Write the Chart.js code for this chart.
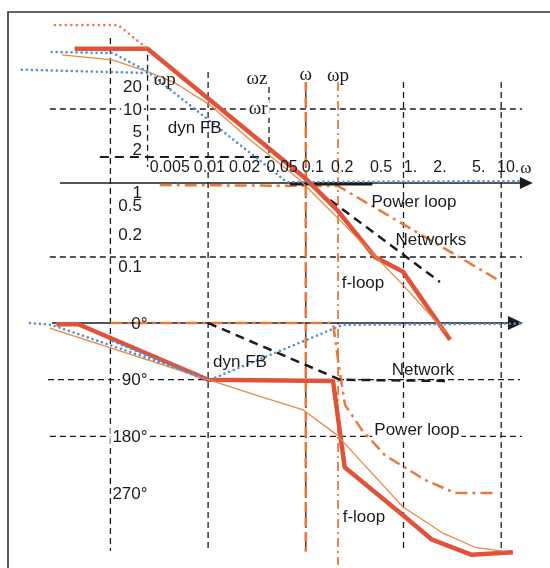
<!DOCTYPE html>
<html>
<head>
<meta charset="utf-8">
<script src="https://cdn.jsdelivr.net/npm/chart.js@4.4.1/dist/chart.umd.min.js"></script>
<style>
  html, body { margin: 0; padding: 0; background: #fff; }
  #wrap { width: 550px; height: 568px; position: relative; }
</style>
</head>
<body>
<div id="wrap"><canvas id="bode"></canvas></div>
<script>
// ---- Magnitude (|G|, log) against frequency ω ----
// f-loop, asymptotic
const floopMagW  = [0.00043, 0.0024, 0.098, 0.21, 0.51, 0.99, 3.0];
const floopMag   = [65, 65, 1.17, 0.43, 0.10, 0.063, 0.0076];
// f-loop, actual response
const floopFitMagW = [0.00032, 0.00104, 0.0024, 0.0046, 0.0105, 0.027, 0.087, 0.22, 0.51, 0.97, 2.7];
const floopFitMag  = [54, 46, 32, 22.5, 11.3, 3.8, 1.10, 0.32, 0.103, 0.043, 0.0097];
// open loop (dotted)
const openMagW = [0.00027, 0.0012, 0.0024];
const openMag  = [136, 136, 65];
// dynamic feedback (dotted)
const dynFbMagW = [0.00025, 0.00106, 0.0024, 0.064, 15.6];
const dynFbMag  = [59, 57, 32, 1.03, 1.06];
const dynFb2MagW = [0.000124, 0.0024];
const dynFb2Mag  = [34, 30.6];
// dynamic feedback asymptote
const dynFbAsymW = [0.00078, 0.043];
const dynFbAsym  = [2.25, 2.25];
// networks
const netFlatW = [0.069, 0.48];
const netFlat  = [0.97, 0.97];
const netMagW = [0.177, 2.36];
const netMag  = [0.59, 0.046];
// power loop
const powerMagW = [0.0032, 0.214, 9.3];
const powerMag  = [0.94, 0.91, 0.049];

// ---- Phase (degrees) against frequency ω ----
const floopPhW = [0.00028, 0.00047, 0.01, 0.19, 0.25, 0.99, 1.96, 5.0, 13.2];
const floopPh  = [-2, -2, -90, -92, -229, -305, -344, -368, -364];
const floopFitPhW = [0.00024, 0.01, 0.0365, 0.094, 0.21, 0.38, 0.99, 2.5, 5.4, 10.4];
const floopFitPh  = [-8, -90, -118, -138, -178, -222, -292, -333, -356, -362];
const dynFbPhW = [0.00015, 0.00025, 0.0105, 0.24, 15.6];
const dynFbPh  = [0, -3, -90, -3, -1];
const dynFb2PhW = [0.00106, 0.0083];
const dynFb2Ph  = [-29, -87];
const netPhW = [0.01, 0.224, 2.66];
const netPh  = [0, -90, -92];
const powerPhW = [0.001, 0.19, 0.214, 0.252, 0.376, 0.647, 1.66, 3.37, 9.1];
const powerPh  = [0, 0, -59, -130, -170, -210, -249, -270, -270];

// characteristic frequencies
const omegaC = 0.1;
const omegaP = 0.214;

// ---- tick labels ----
const freqTicks = [0.005, 0.01, 0.02, 0.05, 0.1, 0.2, 0.5, 1, 2, 5, 10];
const freqTickLabels = ['0.005', '0.01', '0.02', '0.05', '0.1', '0.2', '0.5', '1.', '2.', '5.', '10.'];
const magTicks = [20, 10, 5, 2, 1, 0.5, 0.2, 0.1];
const magTickLabels = ['20', '10', '5', '2', '1', '0.5', '0.2', '0.1'];
const phaseTicks = [0, -90, -180, -270];
const phaseTickLabels = ['0°', '90°', '180°', '270°'];

// ---- curve names and frequency markers ----
const notes = [
  { text: 'ωp', w: 0.0036, v: 24.7, axis: 'mag' },
  { text: 'ωz', w: 0.0317, v: 25.4, axis: 'mag' },
  { text: 'ωr', w: 0.0325, v: 10, axis: 'mag' },
  { text: 'ω', w: 0.1, v: 28.8, axis: 'mag' },
  { text: 'ωp', w: 0.214, v: 27.9, axis: 'mag' },
  { text: 'dyn FB', w: 0.0073, v: 5.5, axis: 'mag' },
  { text: 'Power loop', w: 1.28, v: 0.55, axis: 'mag' },
  { text: 'Networks', w: 1.91, v: 0.17, axis: 'mag' },
  { text: 'f-loop', w: 0.385, v: 0.0445, axis: 'mag' },
  { text: 'dyn FB', w: 0.0212, v: -62, axis: 'ph' },
  { text: 'Network', w: 1.58, v: -75, axis: 'ph' },
  { text: 'Power loop', w: 1.37, v: -170, axis: 'ph' },
  { text: 'f-loop', w: 0.394, v: -308, axis: 'ph' }
];

const RED = '#e0533a';
const ORANGE = '#e97a3c';
const THIN = '#e68a48';
const BLUE = '#4d8fd1';
const INK = '#1b1b1b';
const SANS = '"Liberation Sans", Arial, sans-serif';
const SERIF = '"Liberation Serif", "Times New Roman", serif';

function series(ws, vs, axis, style) {
  return Object.assign({
    data: ws.map((w, i) => ({ x: w, y: vs[i] })),
    yAxisID: axis,
    pointRadius: 0,
    pointHoverRadius: 0,
    tension: 0,
    fill: false,
    borderJoinStyle: 'round'
  }, style);
}

const redStyle   = { borderColor: RED, borderWidth: 4.5, order: 3 };
const thinStyle  = { borderColor: THIN, borderWidth: 1.3, order: 2 };
const blueStyle  = { borderColor: BLUE, borderWidth: 2.6, borderDash: [0, 5], borderCapStyle: 'round', order: 1 };
const dotStyle   = { borderColor: ORANGE, borderWidth: 2.6, borderDash: [0, 5.5], borderCapStyle: 'round', order: 1 };
const netStyle   = { borderColor: INK, borderWidth: 2.5, borderDash: [9, 6], order: 4 };
const powerStyle = { borderColor: ORANGE, borderWidth: 2.5, borderDash: [12, 5, 3, 5], order: 5 };

const datasets = [
  series(floopMagW, floopMag, 'mag', redStyle),
  series(floopFitMagW, floopFitMag, 'mag', thinStyle),
  series(openMagW, openMag, 'mag', dotStyle),
  series(dynFbMagW, dynFbMag, 'mag', blueStyle),
  series(dynFb2MagW, dynFb2Mag, 'mag', blueStyle),
  series(dynFbAsymW, dynFbAsym, 'mag', { borderColor: INK, borderWidth: 2, borderDash: [9, 6], order: 4 }),
  series(netFlatW, netFlat, 'mag', { borderColor: INK, borderWidth: 3, order: 4 }),
  series(netMagW, netMag, 'mag', netStyle),
  series(powerMagW, powerMag, 'mag', powerStyle),
  series(floopPhW, floopPh, 'ph', redStyle),
  series(floopFitPhW, floopFitPh, 'ph', thinStyle),
  series(dynFbPhW, dynFbPh, 'ph', blueStyle),
  series(dynFb2PhW, dynFb2Ph, 'ph', blueStyle),
  series(netPhW, netPh, 'ph', netStyle),
  series(powerPhW, powerPh, 'ph', powerStyle)
];

function seg(ctx, x1, y1, x2, y2, color, width, dash) {
  ctx.save();
  ctx.strokeStyle = color;
  ctx.lineWidth = width;
  ctx.setLineDash(dash || []);
  ctx.beginPath();
  ctx.moveTo(x1, y1);
  ctx.lineTo(x2, y2);
  ctx.stroke();
  ctx.restore();
}

function arrow(ctx, xTip, y, len, half) {
  ctx.save();
  ctx.fillStyle = INK;
  ctx.beginPath();
  ctx.moveTo(xTip, y);
  ctx.lineTo(xTip - len, y - half);
  ctx.lineTo(xTip - len, y + half);
  ctx.closePath();
  ctx.fill();
  ctx.restore();
}

function text(ctx, s, x, y, font, align, baseline, knockout) {
  ctx.save();
  ctx.font = font;
  ctx.textAlign = align || 'center';
  ctx.textBaseline = baseline || 'middle';
  if (knockout) {
    const m = ctx.measureText(s);
    let left = x;
    if (ctx.textAlign === 'center') left = x - m.width / 2;
    else if (ctx.textAlign === 'right') left = x - m.width;
    ctx.fillStyle = '#fff';
    ctx.fillRect(left - 2, y - 9, m.width + 4, 18);
  }
  ctx.fillStyle = INK;
  ctx.fillText(s, x, y);
  ctx.restore();
}

const sketch = {
  id: 'sketch',
  beforeDatasetsDraw(chart) {
    const { ctx, scales } = chart;
    const X = w => scales.x.getPixelForValue(w);
    const M = v => scales.mag.getPixelForValue(v);
    const P = v => scales.ph.getPixelForValue(v);

    // frame
    ctx.save();
    ctx.strokeStyle = '#333';
    ctx.lineWidth = 1.6;
    ctx.beginPath();
    ctx.moveTo(8, chart.height);
    ctx.lineTo(8, 12);
    ctx.lineTo(chart.width, 12);
    ctx.stroke();
    ctx.restore();

    const gridDash = [6, 4];
    // vertical grid lines
    const vgrid = [
      [0.001, M(91), P(-362)],
      [0.0024, M(54), M(1.65)],
      [0.01, M(31.6), P(-363)],
      [0.042, M(19.8), M(2.25)],
      [0.1, M(23.2), P(-363)],
      [1, M(23.2), P(-363)],
      [10, M(23.2), P(-363)]
    ];
    vgrid.forEach(([w, y1, y2]) => seg(ctx, X(w), y1, X(w), y2, INK, 1.3, gridDash));
    // horizontal grid lines
    seg(ctx, X(0.00024), M(10), X(16.3), M(10), INK, 1.3, gridDash);
    seg(ctx, X(0.00024), M(0.1), X(16.3), M(0.1), INK, 1.3, gridDash);
    seg(ctx, X(0.00023), P(-90), X(15.6), P(-90), INK, 1.3, gridDash);
    seg(ctx, X(0.00024), P(-180), X(16.3), P(-180), INK, 1.3, gridDash);

    // frequency markers ω and ωp
    seg(ctx, X(omegaC), M(23.2), X(omegaC), P(-363), ORANGE, 2.6, [10, 5]);
    seg(ctx, X(omegaP), M(23.2), X(omegaP), P(-384), ORANGE, 1.8, [9, 4, 2, 4]);

    // axes with arrow heads
    const magTip = X(21.1), phTip = X(16.7);
    seg(ctx, X(0.000305), M(1), magTip - 10, M(1), INK, 1.6);
    arrow(ctx, magTip, M(1), 13, 6);
    seg(ctx, X(0.000252), P(0), phTip - 10, P(0), INK, 1.6);
    arrow(ctx, phTip, P(0), 15, 7);
  },
  afterDatasetsDraw(chart) {
    const { ctx, scales } = chart;
    const X = w => scales.x.getPixelForValue(w);
    const M = v => scales.mag.getPixelForValue(v);
    const P = v => scales.ph.getPixelForValue(v);
    const f17 = '17px ' + SANS;
    const fTick = '16px ' + SANS;

    // frequency labels above the magnitude axis, kept from overlapping
    ctx.save();
    ctx.font = fTick;
    const widths = freqTickLabels.map(s => ctx.measureText(s).width);
    ctx.restore();
    const centers = freqTicks.map(w => X(w) + 7);
    for (let i = centers.length - 2; i >= 0; i--) {
      const nextLeft = centers[i + 1] - widths[i + 1] / 2;
      const right = centers[i] + widths[i] / 2;
      if (right > nextLeft - 4) centers[i] -= right - (nextLeft - 4);
    }
    const yf = M(1) - 15;
    freqTickLabels.forEach((s, i) => text(ctx, s, centers[i], yf, fTick));
    const last = freqTickLabels.length - 1;
    text(ctx, 'ω', centers[last] + widths[last] / 2 + 1, yf + 1, '17px ' + SERIF, 'left');

    // magnitude labels
    const xm = X(0.0021);
    magTicks.forEach((v, i) => {
      let y = M(v), base = 'middle';
      if (v === 2) { y -= 2; base = 'bottom'; }
      if (v === 1 || v === 0.1) { y += 2; base = 'top'; }
      text(ctx, magTickLabels[i], xm, y + (base === 'middle' ? 1 : 0), f17, 'right', base, v === 10);
    });

    // phase labels
    const xp = X(0.0024);
    phaseTicks.forEach((v, i) => {
      text(ctx, phaseTickLabels[i], xp, P(v) + 1, f17, 'right', 'middle', v === -90 || v === -180);
    });

    // curve names and frequency markers
    notes.forEach(n => {
      const y = n.axis === 'mag' ? M(n.v) : P(n.v);
      const greek = n.text.startsWith('ω');
      const knock = n.text === 'ωr' || (n.text === 'Power loop' && n.axis === 'ph');
      text(ctx, n.text, X(n.w), y, greek ? '19px ' + SERIF : f17, 'center', 'middle', knock);
    });
  }
};

new Chart(document.getElementById('bode'), {
  type: 'line',
  data: { datasets },
  options: {
    responsive: true,
    maintainAspectRatio: false,
    animation: false,
    events: [],
    layout: { padding: 0 },
    plugins: { legend: { display: false }, tooltip: { enabled: false } },
    scales: {
      x: { type: 'logarithmic', min: 7.41e-5, max: 31.6, bounds: 'data', display: false },
      mag: { type: 'logarithmic', position: 'left', min: 6.27e-6, max: 297.2, bounds: 'data', display: false },
      ph: { type: 'linear', position: 'right', min: -388.9, max: 512.7, bounds: 'data', display: false }
    }
  },
  plugins: [sketch]
});
</script>
</body>
</html>
